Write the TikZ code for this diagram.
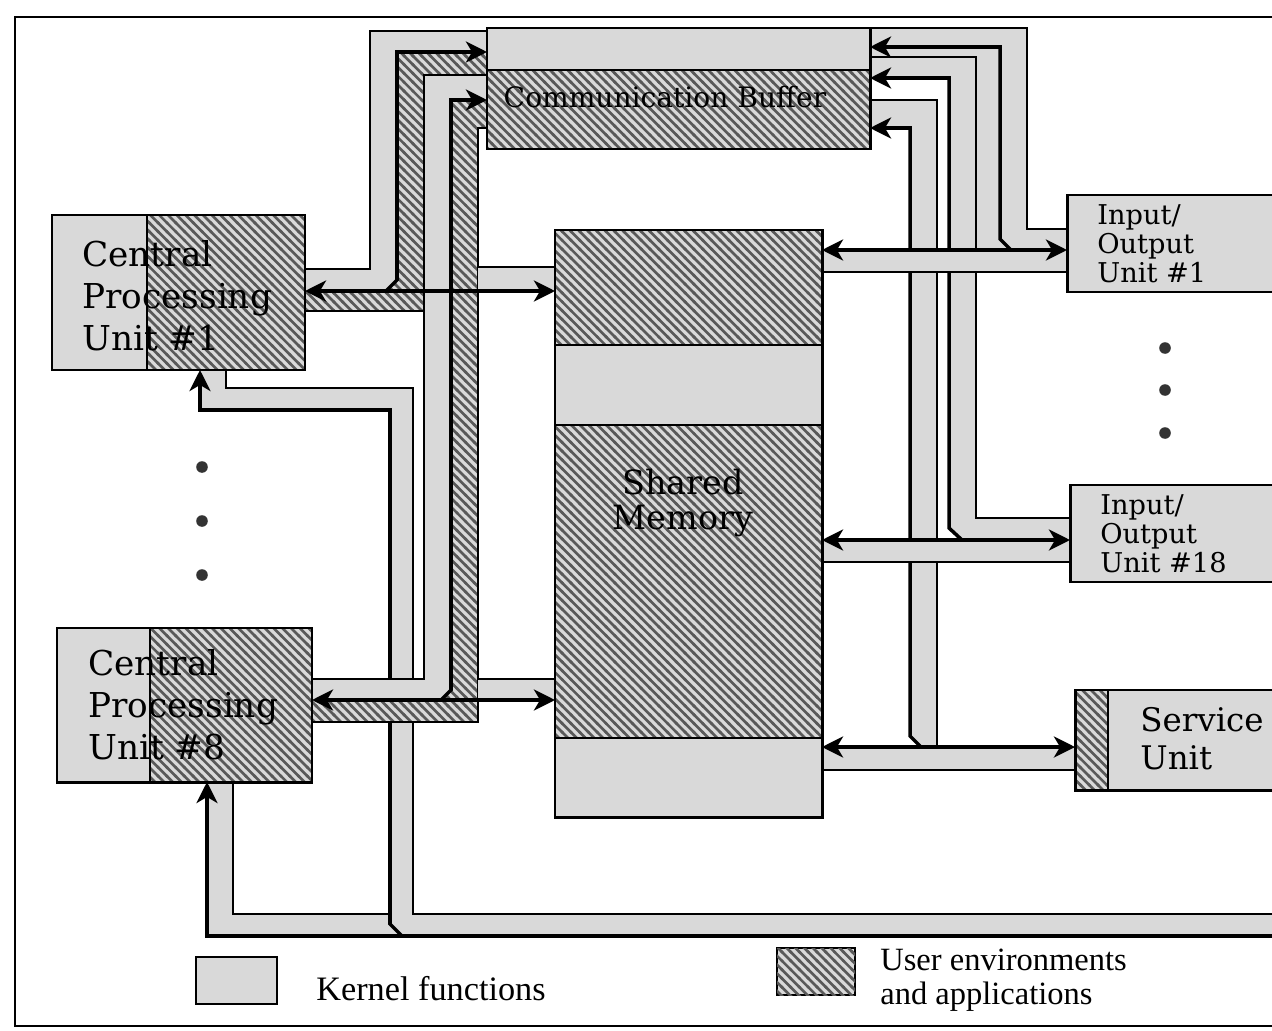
\documentclass[tikz,border=0pt]{standalone}
\usepackage{fontspec}
\setmainfont{DejaVu Serif}
\newfontfamily\legendfont{Liberation Serif}
\usetikzlibrary{arrows.meta, patterns.meta, fit, positioning}

\pgfdeclarelayer{background}
\pgfsetlayers{background,main}

\tikzdeclarepattern{
  name=userhatch,
  type=uncolored,
  bounding box={(-1pt,-1pt) and (6pt,6pt)},
  tile size={(5pt,5pt)},
  code={\draw[line width=1.5pt] (-0.5pt,5.5pt) -- (5.5pt,-0.5pt);}
}

\tikzset{
  kernel/.style={fill=black!15},
  user/.style={fill=black!15, postaction={pattern=userhatch, pattern color=black!65}},
  bare/.style={inner sep=0pt, outer sep=0pt},
  boxline/.style={draw, line width=1.7pt},
  busline/.style={line width=1.3pt},
  arrowline/.style={line width=2pt},
  lbl/.style={inner sep=0pt, align=left, anchor=west},
  >={Stealth[length=12pt, width=12pt, inset=3.5pt]},
}

\begin{document}
\begin{tikzpicture}[x=0.02cm, y=-0.02cm]
  \useasboundingbox (0,0) rectangle (1272,1031);

  % Frame
  \draw[line width=1.1pt] (1290,17) -- (15,17) -- (15,1026) -- (1290,1026);

  % Levels of the connectors
  \coordinate (lvCA) at (0,291);
  \coordinate (lvCH) at (0,700);
  \coordinate (lvBA) at (0,52);
  \coordinate (lvBH) at (0,100);
  \coordinate (lvBI) at (0,47);
  \coordinate (lvBR) at (0,78);
  \coordinate (lvBS) at (0,128);
  \coordinate (lvMI) at (0,250);
  \coordinate (lvMR) at (0,540);
  \coordinate (lvMS) at (0,747);
  \coordinate (lvBot) at (0,936);
  \coordinate (xA) at (200,0);
  \coordinate (xH) at (207,0);

  % Communication buffer
  \node[fit={(487,28) (870,70)}, bare, kernel] (cbk) {};
  \node[fit={(487,70) (870,149)}, bare, user] (cbu) {};
  \node[fit=(cbk)(cbu), bare, boxline] (cb) {};
  \draw[busline] (cbk.south west) -- (cbk.south east);
  \node[font=\fontsize{16}{18}\selectfont, inner sep=0pt] (cbtxt) at (665,97) {Communication Buffer};

  % Central processing units
  \node[fit={(52,215) (147,370)}, bare, kernel] (cpuAk) {};
  \node[fit={(147,215) (305,370)}, bare, user] (cpuAu) {};
  \node[fit=(cpuAk)(cpuAu), bare, boxline] (cpuA) {};
  \draw[busline] (cpuAk.north east) -- (cpuAk.south east);
  \node[lbl, font=\fontsize{19.5}{24}\selectfont] (cpuAtxt) at (82,296) {Central\\Processing\\Unit \#1};

  \node[fit={(57,628) (150,782)}, bare, kernel] (cpuHk) {};
  \node[fit={(150,628) (312,782)}, bare, user] (cpuHu) {};
  \node[fit=(cpuHk)(cpuHu), bare, boxline] (cpuH) {};
  \draw[busline] (cpuHk.north east) -- (cpuHk.south east);
  \node[lbl, font=\fontsize{19.5}{24}\selectfont] (cpuHtxt) at (88,705) {Central\\Processing\\Unit \#8};

  % Shared memory
  \node[fit={(555,230) (822,345)}, bare, user] (memA) {};
  \node[fit={(555,345) (822,425)}, bare, kernel] (memB) {};
  \node[fit={(555,425) (822,738)}, bare, user] (memC) {};
  \node[fit={(555,738) (822,817)}, bare, kernel] (memD) {};
  \node[fit=(memA)(memD), bare, boxline] (mem) {};
  \draw[busline] (memB.north west) -- (memB.north east)
                 (memB.south west) -- (memB.south east)
                 (memD.north west) -- (memD.north east);
  \node[font=\fontsize{19}{20}\selectfont, align=center, inner sep=0pt] (memtxt) at (683,503) {Shared\\Memory};

  % I/O units and service unit, cut by the right edge
  \node[fit={(1067,195) (1300,292)}, bare, kernel, boxline] (ioA) {};
  \node[lbl, font=\fontsize{15.5}{16.5}\selectfont] (ioAtxt) at (1097,244) {Input/\\Output\\Unit \#1};
  \node[fit={(1070,485) (1300,582)}, bare, kernel, boxline] (ioR) {};
  \node[lbl, font=\fontsize{15.5}{16.5}\selectfont] (ioRtxt) at (1100,534) {Input/\\Output\\Unit \#18};
  \node[fit={(1075,690) (1108,790)}, bare, user] (svcu) {};
  \node[fit={(1108,690) (1300,790)}, bare, kernel] (svck) {};
  \node[fit=(svcu)(svck), bare, boxline] (svc) {};
  \draw[busline] (svcu.north east) -- (svcu.south east);
  \node[lbl, font=\fontsize{18.5}{21.5}\selectfont] (svctxt) at (1140,739) {Service\\Unit};

  % Ellipsis dots
  \foreach \y in {467,521,575} \fill[black!80] (202,\y) circle[radius=3.3pt];
  \foreach \y in {348,390,433} \fill[black!80] (1165,\y) circle[radius=3.3pt];

  % Legend
  \node[fit={(196,957) (277,1004)}, bare, kernel, boxline, line width=1.3pt] (keyk) {};
  \node[lbl, font=\legendfont\fontsize{19.5}{20}\selectfont] (keyktxt) at (316,989) {Kernel functions};
  \node[fit={(777,948) (855,995)}, bare, user, boxline, line width=1.3pt] (keyu) {};
  \node[lbl, font=\legendfont\fontsize{18.5}{19.5}\selectfont] (keyutxt) at (880,980) {User environments\\and applications};

  \begin{pgfonlayer}{background}
  % Kernel bus along the bottom, feeding both processors
  \fill[kernel] (207,782) -- (233,782) -- (233,914) -- (390,914) -- (390,410) -- (200,410)
    -- (200,370) -- (226,370) -- (226,388) -- (413,388) -- (413,914) -- (1290,914)
    -- (1290,936) -- (207,936) -- cycle;
  \draw[busline] (233,782) -- (233,914) -- (390,914);
  \draw[busline] (226,370) -- (226,388) -- (413,388) -- (413,914) -- (1290,914);
  \draw[arrowline, ->] (1290,936) -- (xH |- lvBot) -- (cpuH.south -| xH);
  \draw[arrowline, ->] (402,936) -- (390,924) -- (390,410) -- (200,410) -- (cpuA.south -| xA);

  % CPU #8 <-> buffer and memory
  \fill[kernel] (312,679) -- (424,679) -- (424,75) -- (487,75) -- (487,100) -- (451,100)
    -- (451,690) -- (441,700) -- (312,700) -- cycle;
  \fill[user] (312,700) -- (441,700) -- (451,690) -- (451,100) -- (487,100) -- (487,128)
    -- (478,128) -- (478,722) -- (312,722) -- cycle;
  \draw[busline] (312,679) -- (424,679) -- (424,75) -- (487,75);
  \draw[busline] (487,128) -- (478,128) -- (478,722) -- (312,722);
  \fill[kernel] (478,679) rectangle (555,700);
  \draw[busline] (478,679) -- (555,679);
  \draw[arrowline, ->] (441,700) -- (451,690) -- (451,100) -- (cb.west |- lvBH);
  \draw[arrowline, <->] (cpuH.east |- lvCH) -- (mem.west |- lvCH);

  % CPU #1 <-> buffer and memory
  \fill[kernel] (305,269) -- (370,269) -- (370,31) -- (487,31) -- (487,52) -- (397,52)
    -- (397,280) -- (386,291) -- (305,291) -- cycle;
  \fill[user] (305,291) -- (386,291) -- (397,280) -- (397,52) -- (487,52) -- (487,75)
    -- (424,75) -- (424,311) -- (305,311) -- cycle;
  \draw[busline] (305,269) -- (370,269) -- (370,31) -- (487,31);
  \draw[busline] (487,75) -- (424,75) -- (424,311) -- (305,311);
  \fill[kernel] (478,267) rectangle (555,291);
  \draw[busline] (478,267) -- (555,267);
  \draw[arrowline, ->] (386,291) -- (397,280) -- (397,52) -- (cb.west |- lvBA);
  \draw[arrowline, <->] (cpuA.east |- lvCA) -- (mem.west |- lvCA);

  % I/O and service units <-> buffer
  \fill[kernel] (870,28) -- (1027,28) -- (1027,229) -- (1067,229) -- (1067,250) -- (976,250)
    -- (976,57) -- (870,57) -- cycle;
  \fill[kernel] (870,100) -- (937,100) -- (937,747) -- (921,747) -- (910,736) -- (910,128)
    -- (870,128) -- cycle;
  \fill[kernel] (870,57) -- (976,57) -- (976,518) -- (1070,518) -- (1070,540) -- (962,540)
    -- (949,528) -- (949,78) -- (870,78) -- cycle;
  \draw[busline] (870,28) -- (1027,28) -- (1027,229) -- (1067,229);
  \draw[busline] (870,57) -- (976,57) -- (976,518) -- (1070,518);
  \draw[busline] (870,100) -- (937,100) -- (937,747);
  \draw[arrowline, ->] (1011,250) -- (1000,239) -- (1000,47) -- (cb.east |- lvBI);
  \draw[arrowline, ->] (962,540) -- (949,528) -- (949,78) -- (cb.east |- lvBR);
  \draw[arrowline, ->] (921,747) -- (910,736) -- (910,128) -- (cb.east |- lvBS);

  % Memory <-> I/O and service units
  \fill[kernel] (822,747) rectangle (1075,770);
  \draw[busline] (822,770) -- (1075,770);
  \draw[arrowline, <->] (mem.east |- lvMS) -- (svc.west |- lvMS);
  \fill[kernel] (822,540) rectangle (1070,562);
  \draw[busline] (822,562) -- (1070,562);
  \draw[arrowline, <->] (mem.east |- lvMR) -- (ioR.west |- lvMR);
  \fill[kernel] (822,250) rectangle (1067,272);
  \draw[busline] (822,272) -- (1067,272);
  \draw[arrowline, <->] (mem.east |- lvMI) -- (ioA.west |- lvMI);
  \end{pgfonlayer}
\end{tikzpicture}
\end{document}
